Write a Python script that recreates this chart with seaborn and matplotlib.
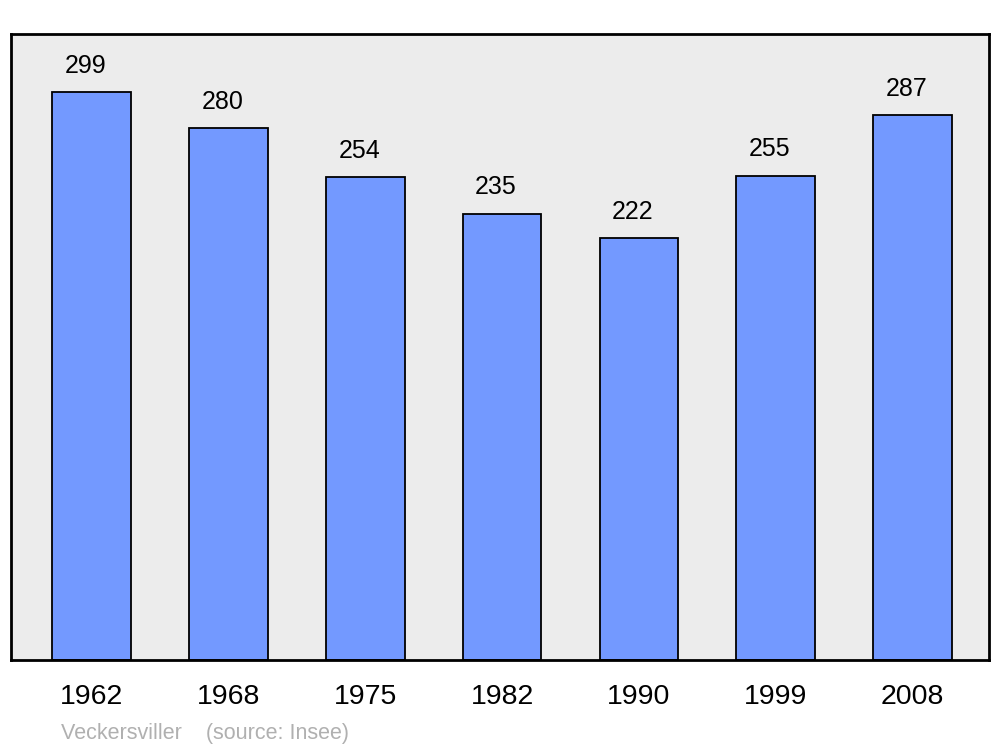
import matplotlib
matplotlib.use("Agg")
import matplotlib.pyplot as plt
import seaborn as sns
import pandas as pd

years = ["1962", "1968", "1975", "1982", "1990", "1999", "2008"]
population = [299, 280, 254, 235, 222, 255, 287]
footer_text = "Veckersviller    (source: Insee)"

df = pd.DataFrame({"year": years, "pop": population})

sns.set_theme(style="white")
plt.rcParams["font.family"] = ["Liberation Sans", "DejaVu Sans"]

fig = plt.figure(figsize=(10, 7.47), dpi=100)
ax = fig.add_axes([0.011, 0.1165, 0.978, 0.838])
ax.set_facecolor("#ececec")

sns.barplot(data=df, x="year", y="pop", ax=ax, color="#7399ff", saturation=1,
            width=0.575, edgecolor="black", linewidth=1.3)

for i, v in enumerate(population):
    ax.annotate(str(v), xy=(i, v), xytext=(-4.3, 18.8), textcoords="offset points",
                ha="center", va="center", fontsize=18, color="black")

ax.set_xlim(-0.59, 6.56)
ax.set_ylim(0, 329.5)
ax.set_yticks([])
ax.set_xlabel("")
ax.set_ylabel("")
ax.tick_params(axis="x", length=0, pad=17, labelsize=20.5, colors="black")
for s in ax.spines.values():
    s.set_visible(True)
    s.set_color("black")
    s.set_linewidth(2)

fig.text(0.061, 1 - 733 / 747, footer_text, fontsize=15.5, color="#b0b0b0", ha="left", va="center")

fig.savefig("out.png", dpi=100, facecolor="white")
